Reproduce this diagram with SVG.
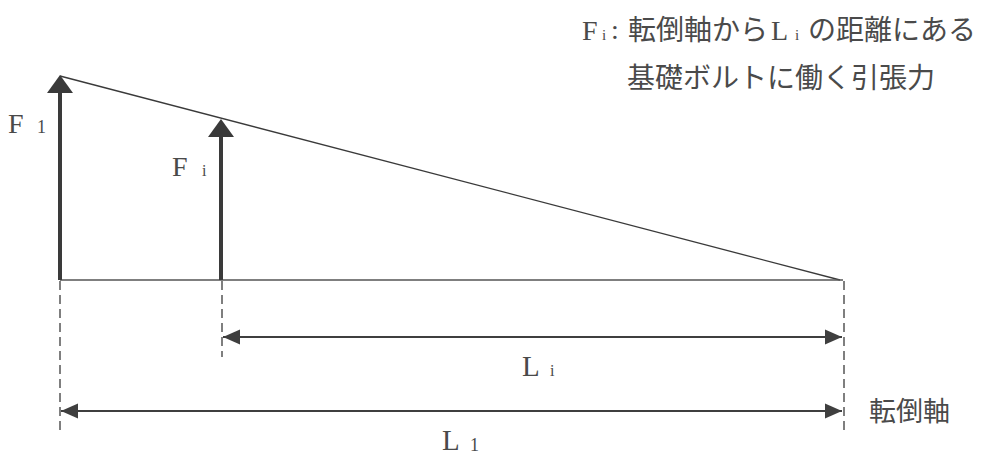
<svg xmlns="http://www.w3.org/2000/svg" width="984" height="457" viewBox="0 0 984 457">
  <style>
    .latin { font-family: "Liberation Serif", "Times New Roman", serif; fill: #4a4a4a; }
    .jp { font-family: "Noto Sans CJK JP", "Noto Sans", sans-serif; fill: #4a4a4a; }
    .force { stroke: #3a3a3a; stroke-width: 4; fill: none; }
    .dim { stroke: #3f3f3f; stroke-width: 2.2; fill: none; }
    .dash { stroke: #555; stroke-width: 1.5; stroke-dasharray: 9 5; fill: none; }
    .thin { stroke: #3a3a3a; stroke-width: 1.3; fill: none; }
    .base { stroke: #555; stroke-width: 1.6; fill: none; }
  </style>
  <defs>
    <marker id="bigHead" markerUnits="userSpaceOnUse" markerWidth="20" markerHeight="28" viewBox="0 -14 20 28" refX="0" refY="0" orient="auto">
      <path d="M0,-13 L18,0 L0,13 z" fill="#3a3a3a"/>
    </marker>
    <marker id="dimHead" markerUnits="userSpaceOnUse" markerWidth="18" markerHeight="16" viewBox="0 -8 18 16" refX="17" refY="0" orient="auto-start-reverse">
      <path d="M0,-7.5 L17,0 L0,7.5 z" fill="#3f3f3f"/>
    </marker>
  </defs>

  <g id="connectors">
    <line class="thin" x1="60" y1="76" x2="840" y2="280"/>
    <line class="base" x1="60" y1="280" x2="843" y2="280"/>
    <line class="dash" x1="60" y1="281" x2="60" y2="431"/>
    <line class="dash" x1="222" y1="281" x2="222" y2="357"/>
    <line class="dash" x1="844" y1="281" x2="844" y2="432"/>
    <line class="dim" x1="223" y1="337" x2="842" y2="337" marker-start="url(#dimHead)" marker-end="url(#dimHead)"/>
    <line class="dim" x1="61" y1="411" x2="842" y2="411" marker-start="url(#dimHead)" marker-end="url(#dimHead)"/>
  </g>

  <g id="force-F1">
    <line class="force" x1="60" y1="280" x2="60" y2="93" marker-end="url(#bigHead)"/>
    <text class="latin" x="8" y="133" font-size="28">F</text>
    <text class="latin" x="37" y="133" font-size="18">1</text>
  </g>

  <g id="force-Fi">
    <line class="force" x1="221" y1="280" x2="221" y2="137" marker-end="url(#bigHead)"/>
    <text class="latin" x="172" y="176" font-size="28">F</text>
    <text class="latin" x="202" y="176" font-size="16">i</text>
  </g>

  <g id="label-Li">
    <text class="latin" x="522" y="376" font-size="29">L</text>
    <text class="latin" x="550" y="376" font-size="16">i</text>
  </g>

  <g id="label-L1">
    <text class="latin" x="442" y="450" font-size="29">L</text>
    <text class="latin" x="470" y="451" font-size="18">1</text>
  </g>

  <g id="label-axis">
    <text class="jp" x="869" y="421" font-size="27">転倒軸</text>
  </g>

  <g id="legend">
    <text class="latin" x="582" y="40" font-size="28">F</text>
    <text class="latin" x="602" y="40" font-size="15">i</text>
    <text class="latin" x="611" y="39" font-size="28">:</text>
    <text class="jp" x="628" y="40" font-size="28">転倒軸から</text>
    <text class="latin" x="771" y="40" font-size="28">L</text>
    <text class="latin" x="795" y="40" font-size="15">i</text>
    <text class="jp" x="808" y="40" font-size="28">の距離にある</text>
    <text class="jp" x="627" y="88" font-size="28">基礎ボルトに働く引張力</text>
  </g>
</svg>
